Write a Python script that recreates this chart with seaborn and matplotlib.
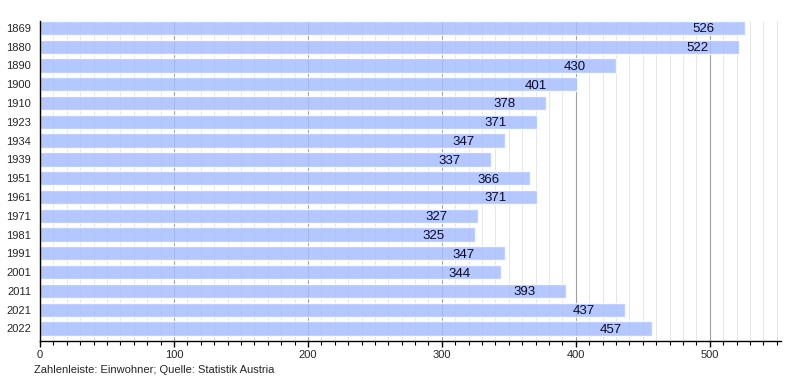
import matplotlib
matplotlib.use("Agg")
import matplotlib.pyplot as plt
import seaborn as sns
import pandas as pd
from matplotlib.ticker import MultipleLocator

years = ["1869", "1880", "1890", "1900", "1910", "1923", "1934", "1939", "1951",
         "1961", "1971", "1981", "1991", "2001", "2011", "2021", "2022"]
einwohner = [526, 522, 430, 401, 378, 371, 347, 337, 366,
             371, 327, 325, 347, 344, 393, 437, 457]

df = pd.DataFrame({"year": years, "pop": einwohner})

sns.set_style("white")
plt.rcParams["font.family"] = ["Liberation Sans", "DejaVu Sans"]

fig = plt.figure(figsize=(8, 3.8), dpi=100)
ax = fig.add_axes([0.05, 0.1034, 0.926, 0.8421])

sns.barplot(data=df, x="pop", y="year", orient="h", color="#a7beff",
            saturation=1, width=0.76, alpha=0.85, ax=ax, zorder=3)

for i, v in enumerate(einwohner):
    ax.annotate(str(v), xy=(v, i), xytext=(-22, -1), textcoords="offset points",
                ha="right", va="center", fontsize=9.5, color="#0a0a28", zorder=4)

ax.set_xlim(0, 553)
ax.set_ylim(16.65, -0.38)
ax.xaxis.set_major_locator(MultipleLocator(100))
ax.xaxis.set_minor_locator(MultipleLocator(10))
ax.set_axisbelow(True)
ax.grid(axis="x", which="major", color="#a0a0a0", linewidth=0.8)
ax.grid(axis="x", which="minor", color="#e2e2e2", linewidth=0.6)
ax.grid(axis="y", visible=False)

for s in ["top", "right"]:
    ax.spines[s].set_visible(False)
for s in ["left", "bottom"]:
    ax.spines[s].set_color("black")
    ax.spines[s].set_linewidth(1)
    ax.spines[s].set_zorder(5)

ax.tick_params(axis="x", which="major", direction="out", length=4, width=1,
               labelsize=8, bottom=True, color="black", pad=3)
ax.tick_params(axis="x", which="minor", direction="out", length=3, width=0.8,
               bottom=True, color="black")
ax.tick_params(axis="y", length=0, labelsize=8, pad=6.5)
ax.set_xlabel("")
ax.set_ylabel("")

fig.text(0.043, 0.027, "Zahlenleiste: Einwohner; Quelle: Statistik Austria",
         fontsize=8, ha="left", va="center")

fig.savefig("out.png", dpi=100)
